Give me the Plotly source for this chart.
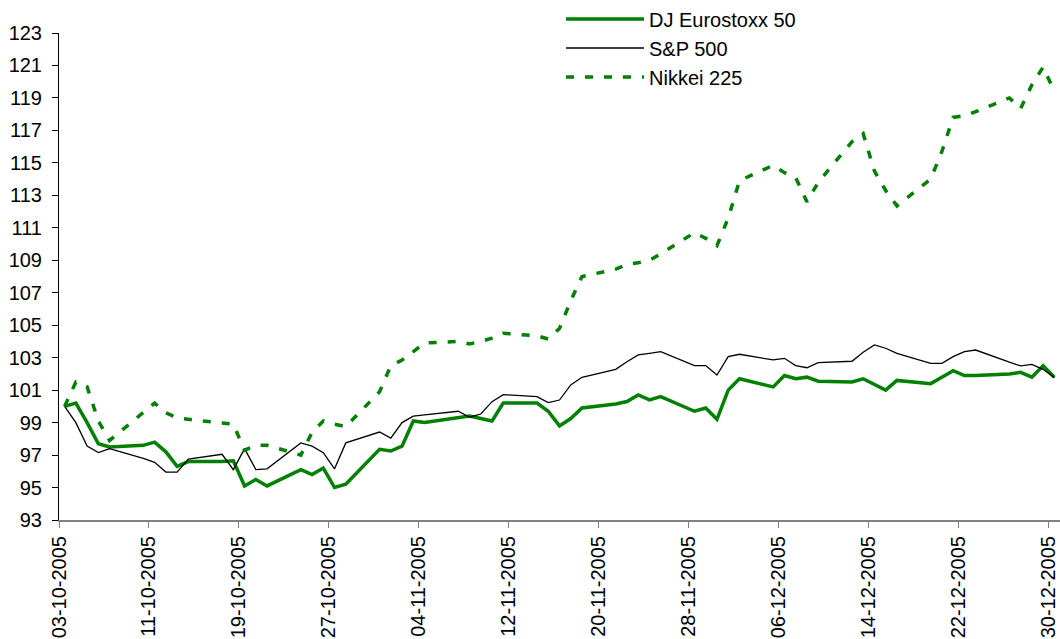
import plotly.graph_objects as go

# trading days, Oct 3 - Dec 30 2005
dates = [
    "2005-10-03", "2005-10-04", "2005-10-05", "2005-10-06", "2005-10-07",
    "2005-10-10", "2005-10-11", "2005-10-12", "2005-10-13", "2005-10-14",
    "2005-10-17", "2005-10-18", "2005-10-19", "2005-10-20", "2005-10-21",
    "2005-10-24", "2005-10-25", "2005-10-26", "2005-10-27", "2005-10-28",
    "2005-10-31", "2005-11-01", "2005-11-02", "2005-11-03", "2005-11-04",
    "2005-11-07", "2005-11-08", "2005-11-09", "2005-11-10", "2005-11-11",
    "2005-11-14", "2005-11-15", "2005-11-16", "2005-11-17", "2005-11-18",
    "2005-11-21", "2005-11-22", "2005-11-23", "2005-11-24", "2005-11-25",
    "2005-11-28", "2005-11-29", "2005-11-30", "2005-12-01", "2005-12-02",
    "2005-12-05", "2005-12-06", "2005-12-07", "2005-12-08", "2005-12-09",
    "2005-12-12", "2005-12-13", "2005-12-14", "2005-12-15", "2005-12-16",
    "2005-12-19", "2005-12-20", "2005-12-21", "2005-12-22", "2005-12-23",
    "2005-12-26", "2005-12-27", "2005-12-28", "2005-12-29", "2005-12-30",
]

eurostoxx = [
    100.0, 100.2, 99.0, 97.7, 97.5,
    97.6, 97.8, 97.2, 96.3, 96.6,
    96.6, 96.65, 95.1, 95.5, 95.1,
    96.1, 95.8, 96.2, 95.0, 95.2,
    97.35, 97.25, 97.55, 99.1, 99.0,
    99.3, 99.4, 99.25, 99.1, 100.2,
    100.2, 99.7, 98.8, 99.25, 99.9,
    100.15, 100.3, 100.7, 100.4, 100.6,
    99.7, 99.9, 99.2, 101.0, 101.7,
    101.2, 101.9, 101.7, 101.8, 101.55,
    101.5, 101.7, 101.35, 101.0, 101.6,
    101.4, 101.8, 102.2, 101.9, 101.9,
    102.0, 102.1, 101.8, 102.5, 101.8,
]

sp500 = [
    100.0, 99.0, 97.55, 97.15, 97.4,
    96.8, 96.55, 95.95, 95.95, 96.75,
    97.05, 96.1, 97.4, 96.1, 96.15,
    97.75, 97.55, 97.15, 96.15, 97.75,
    98.42, 98.04, 99.0, 99.4, 99.47,
    99.7, 99.33, 99.53, 100.29, 100.72,
    100.6, 100.23, 100.39, 101.32, 101.79,
    102.28, 102.75, 103.17, 103.27, 103.37,
    102.51, 102.51, 101.93, 103.06, 103.21,
    102.86, 102.96, 102.51, 102.38, 102.69,
    102.78, 103.33, 103.78, 103.58, 103.27,
    102.65, 102.65, 103.06, 103.37, 103.47,
    102.72, 102.49, 102.59, 102.28, 101.77,
]

nikkei = [
    100.0, 101.5, 101.2, 99.1, 97.9,
    99.6, 100.2, 99.6, 99.3, 99.2,
    99.0, 98.9, 97.3, 97.6, 97.6,
    97.0, 98.4, 99.1, 98.9, 98.75,
    100.9, 102.5, 102.85, 103.4, 103.9,
    104.0, 103.85, 104.0, 104.2, 104.5,
    104.35, 104.15, 104.8, 106.5, 108.0,
    108.45, 108.75, 108.85, 109.0, 109.4,
    110.7, 110.35, 109.9, 111.6, 113.9,
    114.85, 114.4, 114.1, 112.6, 113.8,
    116.3, 116.8, 114.5, 113.3, 112.35,
    114.0, 115.7, 117.8, 117.9, 118.15,
    119.0, 118.35, 119.8, 120.9, 119.4,
]

FONT = "Arial, Liberation Sans, sans-serif"
GREEN = "#008000"
DAY = 86400000

fig = go.Figure()
fig.add_trace(go.Scatter(x=dates, y=eurostoxx, mode="lines", name="DJ Eurostoxx 50",
                         xperiod=DAY, xperiodalignment="middle",
                         line=dict(color=GREEN, width=3.5)))
fig.add_trace(go.Scatter(x=dates, y=sp500, mode="lines", name="S&P 500",
                         xperiod=DAY, xperiodalignment="middle",
                         line=dict(color="black", width=1.3)))
fig.add_trace(go.Scatter(x=dates, y=nikkei, mode="lines", name="Nikkei 225",
                         xperiod=DAY, xperiodalignment="middle",
                         line=dict(color=GREEN, width=3.5, dash="8px,11px")))

fig.update_layout(
    width=1060, height=639,
    margin=dict(l=59, r=0, t=33, b=119, autoexpand=False),
    paper_bgcolor="white", plot_bgcolor="white",
    font=dict(family=FONT, size=20, color="black"),
    showlegend=True,
    legend=dict(x=0.5015, y=1.0688, xanchor="left", yanchor="top",
                bgcolor="rgba(0,0,0,0)", itemwidth=78,
                font=dict(family=FONT, size=20, color="black")),
    xaxis=dict(type="date", range=["2005-10-03", "2005-12-31"],
               tick0="2005-10-03", dtick=8 * DAY, tickformat="%d-%m-%Y",
               tickangle=-90, ticks="outside", ticklen=6, tickcolor="#808080",
               showline=True, linecolor="#808080", linewidth=2,
               showgrid=False, zeroline=False, automargin=False,
               tickfont=dict(family=FONT, size=20, color="black")),
    yaxis=dict(range=[93, 123], tick0=93, dtick=2, ticks="outside", ticklen=6,
               tickcolor="black", showline=True, linecolor="black", linewidth=1,
               showgrid=False, zeroline=False, automargin=False,
               ticklabelstandoff=6,
               tickfont=dict(family=FONT, size=20, color="black")),
)

fig.write_html("out.html", config={"displayModeBar": False},
               post_script="document.body.style.margin='0';")
